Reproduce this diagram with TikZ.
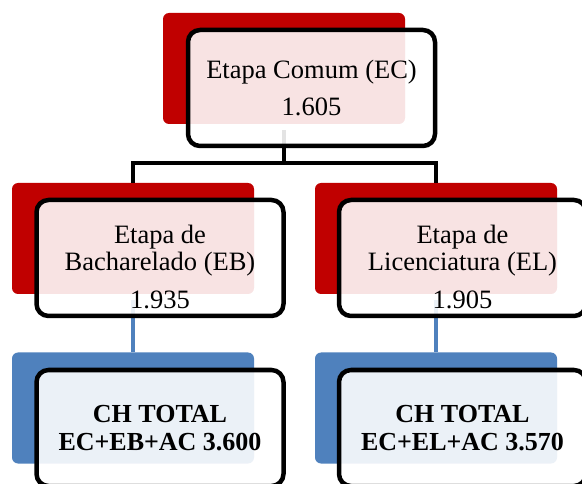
\documentclass[tikz,border=0pt]{standalone}
\usepackage{fontspec}
\setmainfont{Liberation Serif}
\definecolor{darkred}{RGB}{192,0,0}
\definecolor{steelblue}{RGB}{79,129,189}

\begin{document}
\begin{tikzpicture}[x=1pt,y=-1pt,
  backrect/.style={rectangle, rounded corners=6pt, minimum width=242pt,
    minimum height=111pt, inner sep=0pt, draw=none},
  redback/.style={backrect, fill=darkred},
  blueback/.style={backrect, fill=steelblue},
  frontbox/.style={rectangle, rounded corners=12pt, minimum width=247pt,
    minimum height=116pt, inner sep=0pt, draw=black, line width=4.5pt,
    fill=white, fill opacity=0.89, draw opacity=1},
  stagetext/.style={align=center, inner sep=0pt,
    font=\fontsize{26.5}{27}\selectfont},
  totaltext/.style={align=center, inner sep=0pt,
    font=\fontsize{26}{28}\selectfont\bfseries},
  conn/.style={draw=black, line width=4.5pt},
  blueconn/.style={draw=steelblue, line width=4.5pt}
]
\clip (0,0) rectangle (582,484);

% backing plates
\node[redback]  (ecb) at (284,68.5) {};
\node[redback]  (ebb) at (133,238.5) {};
\node[redback]  (elb) at (436,238.5) {};
\node[blueback] (tbb) at (133,408) {};
\node[blueback] (tlb) at (436,408) {};

% connectors (behind the framed boxes)
\coordinate (split) at (284,163);
\draw[conn] ([yshift=-6pt]ecb.south) -- (split);
\draw[conn, line join=miter] (ebb.north) |- (split) -| (elb.north);
\draw[blueconn] ([yshift=-6pt]ebb.south) -- (tbb.north);
\draw[blueconn] ([yshift=-6pt]elb.south) -- (tlb.north);

% framed boxes
\node[frontbox] (ec) at (311.5,88) {};
\node[frontbox] (eb) at (160,258) {};
\node[frontbox] (el) at (462.5,258) {};
\node[frontbox] (tb) at (160,428) {};
\node[frontbox] (tl) at (462.5,428) {};

% texts
\node[stagetext] (ectext) at (311.5,87.5) {Etapa Comum (EC)\\[10pt]1.605};
\node[stagetext] (ebtext) at (160,267) {Etapa de\\Bacharelado (EB)\\[11pt]1.935};
\node[stagetext] (eltext) at (462.5,267) {Etapa de\\Licenciatura (EL)\\[11pt]1.905};
\node[totaltext] (tbtext) at (160,428) {CH TOTAL\\EC+EB+AC 3.600};
\node[totaltext] (tltext) at (462.5,428) {CH TOTAL\\EC+EL+AC 3.570};
\end{tikzpicture}
\end{document}
